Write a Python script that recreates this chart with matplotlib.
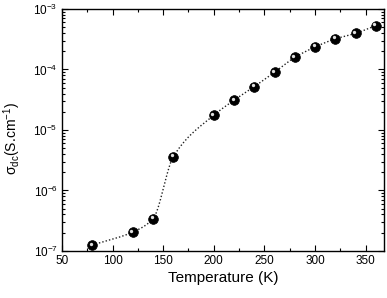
import numpy as np
import matplotlib
matplotlib.use("Agg")
import matplotlib.pyplot as plt
import matplotlib.transforms as mtransforms
from matplotlib.ticker import LogLocator, MultipleLocator, LogFormatterSciNotation

temperature = [80, 120, 140, 160, 200, 220, 240, 260, 280, 300, 320, 340, 360]
sigma_dc = [1.25e-7, 2.05e-7, 3.4e-7, 3.6e-6, 1.75e-5, 3.1e-5, 5.2e-5, 9.0e-5,
            1.58e-4, 2.35e-4, 3.2e-4, 3.95e-4, 5.3e-4]
x_ticks = [50, 100, 150, 200, 250, 300, 350]
y_ticks = [1e-7, 1e-6, 1e-5, 1e-4, 1e-3]

plt.rcParams['font.family'] = ['Liberation Sans', 'DejaVu Sans']
plt.rcParams['mathtext.fontset'] = 'custom'
plt.rcParams['mathtext.rm'] = 'Liberation Sans'
plt.rcParams['mathtext.it'] = 'Liberation Sans:italic'
plt.rcParams['mathtext.default'] = 'regular'


def pchip(x, y, xs):
    x = np.asarray(x, float); y = np.asarray(y, float)
    h = np.diff(x); delta = np.diff(y) / h
    n = len(x)
    d = np.zeros(n)
    for i in range(1, n - 1):
        if delta[i - 1] * delta[i] > 0:
            w1 = 2 * h[i] + h[i - 1]; w2 = h[i] + 2 * h[i - 1]
            d[i] = (w1 + w2) / (w1 / delta[i - 1] + w2 / delta[i])
    d[0] = delta[0]; d[-1] = delta[-1]
    out = np.empty_like(xs)
    for k, xv in enumerate(xs):
        i = min(max(np.searchsorted(x, xv) - 1, 0), n - 2)
        t = (xv - x[i]) / h[i]
        h00 = 2 * t**3 - 3 * t**2 + 1; h10 = t**3 - 2 * t**2 + t
        h01 = -2 * t**3 + 3 * t**2; h11 = t**3 - t**2
        out[k] = h00 * y[i] + h10 * h[i] * d[i] + h01 * y[i + 1] + h11 * h[i] * d[i + 1]
    return out


fig = plt.figure(figsize=(3.87, 2.98), dpi=100)
ax = fig.add_axes([0.160, 0.158, 0.832, 0.812])

xs = np.linspace(temperature[0], temperature[-1], 400)
ys = 10 ** pchip(temperature, np.log10(sigma_dc), xs)
ax.plot(xs, ys, linestyle=(0, (1, 1.5)), color='#222222', linewidth=1.0, zorder=2)

ax.plot(temperature, sigma_dc, 'o', markersize=7.0, markerfacecolor='black',
        markeredgecolor='black', markeredgewidth=0.5, zorder=3)
# sphere highlight
ax.plot(temperature, sigma_dc, 'o', markersize=2.4, markerfacecolor='#e0e0e0',
        markeredgewidth=0, zorder=4,
        transform=ax.transData + mtransforms.ScaledTranslation(-1.1/72, 1.1/72, fig.dpi_scale_trans))

ax.set_yscale('log')
ax.set_xlim(50, 368)
ax.set_ylim(1e-7, 1e-3)
ax.set_xticks(x_ticks)
ax.set_yticks(y_ticks)
ax.xaxis.set_minor_locator(MultipleLocator(25))
ax.yaxis.set_minor_locator(LogLocator(base=10, subs=np.arange(2, 10), numticks=20))
ax.yaxis.set_major_formatter(LogFormatterSciNotation())
ax.tick_params(which='both', direction='in', top=True, right=True, labelsize=8.5, width=0.8)
ax.tick_params(which='major', length=4, pad=3)
ax.tick_params(which='minor', length=2)
for s in ax.spines.values():
    s.set_linewidth(1.0)

ax.set_xlabel('Temperature (K)', fontsize=11, labelpad=3)
ax.set_ylabel(r'$\sigma_{dc}$(S.cm$^{-1}$)', fontsize=10)
ax.yaxis.set_label_coords(-0.12, 0.465)

fig.savefig('out.png', dpi=100)
